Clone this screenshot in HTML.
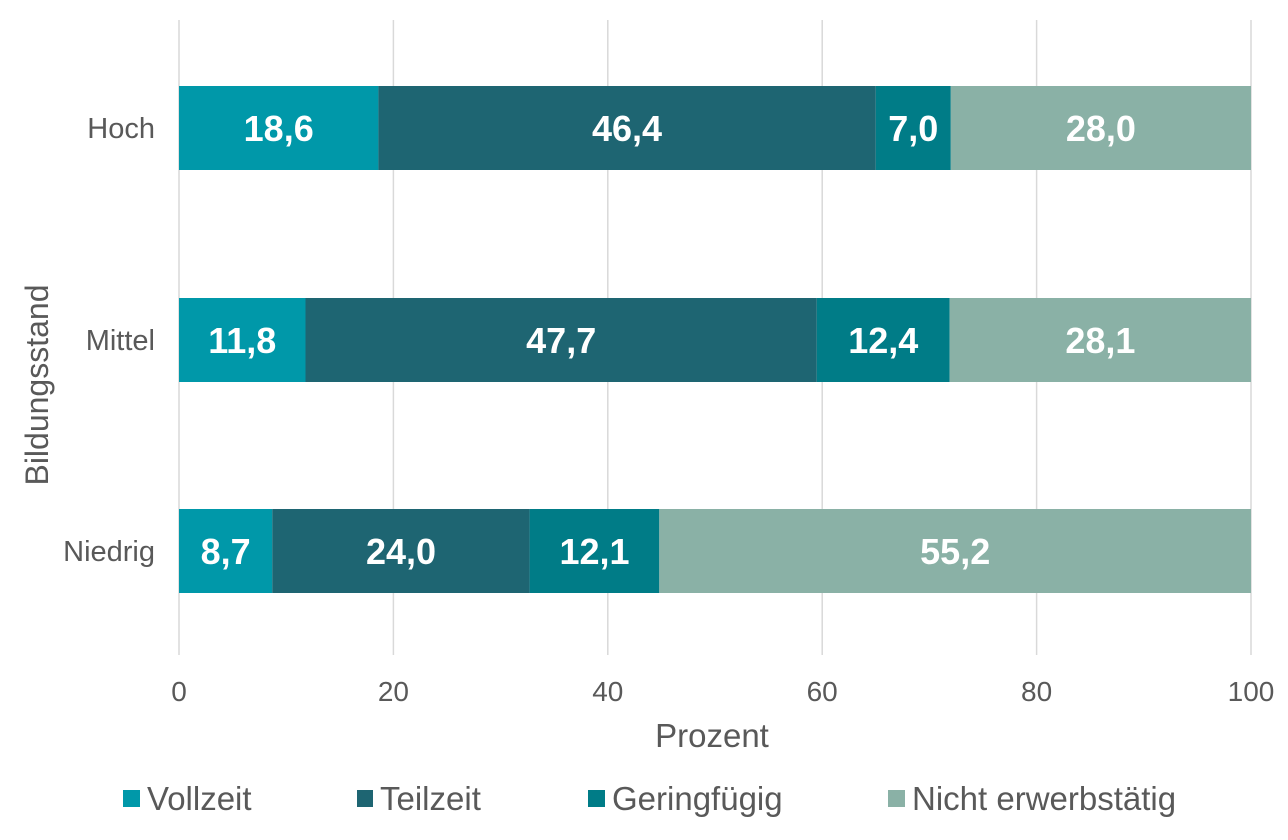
<!DOCTYPE html>
<html><head><meta charset="utf-8"><style>body{margin:0;background:#fff}svg{display:block}</style></head><body>
<svg width="1288" height="840" xmlns="http://www.w3.org/2000/svg" font-family="Liberation Sans, sans-serif">
<g stroke="#d9d9d9" stroke-width="1.5">
<line x1="179" y1="20" x2="179" y2="655"/><line x1="393.4" y1="20" x2="393.4" y2="655"/><line x1="607.8" y1="20" x2="607.8" y2="655"/><line x1="822.2" y1="20" x2="822.2" y2="655"/><line x1="1036.6" y1="20" x2="1036.6" y2="655"/><line x1="1251" y1="20" x2="1251" y2="655"/>
</g>
<g font-size="36" font-weight="bold" fill="#fff" text-anchor="middle">
<rect x="179" y="86" width="199.4" height="84" fill="#0098A9"/><rect x="378.4" y="86" width="497.4" height="84" fill="#1E6572"/><rect x="875.8" y="86" width="75" height="84" fill="#007C87"/><rect x="950.8" y="86" width="300.2" height="84" fill="#8AB1A6"/>
<text x="278.7" y="141">18,6</text><text x="627" y="141">46,4</text><text x="913.3" y="141">7,0</text><text x="1100.9" y="141">28,0</text>
<rect x="179" y="298" width="126.5" height="84" fill="#0098A9"/><rect x="305.5" y="298" width="511.3" height="84" fill="#1E6572"/><rect x="816.8" y="298" width="132.9" height="84" fill="#007C87"/><rect x="949.7" y="298" width="301.3" height="84" fill="#8AB1A6"/>
<text x="242.3" y="353">11,8</text><text x="561.2" y="353">47,7</text><text x="883.3" y="353">12,4</text><text x="1100.4" y="353">28,1</text>
<rect x="179" y="509" width="93.3" height="84" fill="#0098A9"/><rect x="272.3" y="509" width="257.3" height="84" fill="#1E6572"/><rect x="529.6" y="509" width="129.7" height="84" fill="#007C87"/><rect x="659.3" y="509" width="591.7" height="84" fill="#8AB1A6"/>
<text x="225.6" y="564">8,7</text><text x="401" y="564">24,0</text><text x="594.5" y="564">12,1</text><text x="955.2" y="564">55,2</text>
</g>
<g font-size="28" fill="#595959">
<g text-anchor="end" font-size="29"><text x="155" y="138">Hoch</text><text x="155" y="350">Mittel</text><text x="155" y="561">Niedrig</text></g>
<g text-anchor="middle"><text x="179" y="701">0</text><text x="393.4" y="701">20</text><text x="607.8" y="701">40</text><text x="822.2" y="701">60</text><text x="1036.6" y="701">80</text><text x="1251" y="701">100</text>
<text x="712" y="747" font-size="33">Prozent</text>
<text transform="translate(48,385) rotate(-90)" font-size="32">Bildungsstand</text></g>
<g font-size="33">
<rect x="123" y="790" width="17" height="17" fill="#0098A9"/><text x="147" y="810">Vollzeit</text>
<rect x="357" y="790" width="16" height="17" fill="#1E6572"/><text x="380" y="810">Teilzeit</text>
<rect x="588" y="790" width="17" height="17" fill="#007C87"/><text x="612" y="810">Geringfügig</text>
<rect x="888" y="790" width="17" height="17" fill="#8AB1A6"/><text x="912" y="810">Nicht erwerbstätig</text>
</g></g>
</svg>
</body></html>
